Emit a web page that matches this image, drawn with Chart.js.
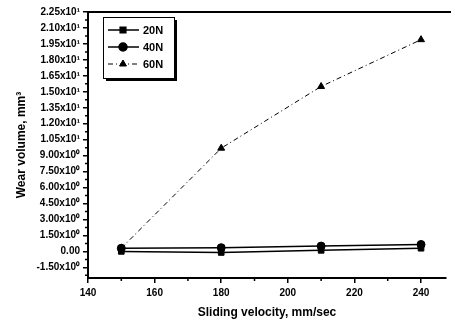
<!DOCTYPE html>
<html>
<head>
<meta charset="utf-8">
<script src="https://cdn.jsdelivr.net/npm/chart.js@4.4.1/dist/chart.umd.min.js"></script>
<style>
  html, body { margin: 0; padding: 0; background: #fff; overflow: hidden; }
</style>
</head>
<body>
<canvas id="wearChart" width="451" height="320"></canvas>
<script>
// sliding velocity (mm/sec) and wear volume (mm^3) per load
const velocities = [150, 180, 210, 240];
const wear20N = [0.0, -0.1, 0.1, 0.3];
const wear40N = [0.3, 0.35, 0.5, 0.65];
const wear60N = [0.3, 9.7, 15.5, 19.9];

const yTicks = [-1.5, 0, 1.5, 3, 4.5, 6, 7.5, 9, 10.5, 12, 13.5, 15, 16.5, 18, 19.5, 21, 22.5];
const yMinorTicks = [-2.25, -0.75, 0.75, 2.25, 3.75, 5.25, 6.75, 8.25, 9.75, 11.25, 12.75, 14.25, 15.75, 17.25, 18.75, 20.25, 21.75];
const xTicks = [140, 160, 180, 200, 220, 240];
const xMinorTicks = [150, 170, 190, 210, 230];
const seriesLabels = ['20N', '40N', '60N'];

const FONT = 'Liberation Sans, Arial, sans-serif';

function fmtY(v) {
  if (v === 0) return '0.00';
  const sign = v < 0 ? '-' : '';
  const a = Math.abs(v);
  if (a >= 10) return sign + (a / 10).toFixed(2) + 'x10\u00B9';
  return sign + a.toFixed(2) + 'x10\u2070';
}

function pts(ys) {
  return velocities.map((x, i) => ({ x: x, y: ys[i] }));
}

// minor ticks, top frame line and the boxed legend
const framePlugin = {
  id: 'frame',
  afterDraw(chart) {
    const { ctx, chartArea, scales } = chart;
    const xs = scales.x, ys = scales.y;
    ctx.save();
    ctx.strokeStyle = '#000';
    ctx.lineWidth = 1.5;
    ctx.beginPath();
    yMinorTicks.forEach(v => {
      const py = ys.getPixelForValue(v);
      if (py < chartArea.top || py > chartArea.bottom) return;
      ctx.moveTo(chartArea.left - 3, py);
      ctx.lineTo(chartArea.left, py);
    });
    xMinorTicks.forEach(v => {
      const px = xs.getPixelForValue(v);
      ctx.moveTo(px, chartArea.bottom);
      ctx.lineTo(px, chartArea.bottom + 3);
    });
    ctx.stroke();

    ctx.lineWidth = 2;
    ctx.beginPath();
    ctx.moveTo(chartArea.left - 1, chartArea.top);
    ctx.lineTo(chartArea.right + 5, chartArea.top);
    ctx.stroke();

    // legend
    const bx = chartArea.left + 15, by = chartArea.top + 5, bw = 71, bh = 61;
    ctx.fillStyle = '#000';
    ctx.fillRect(bx + 3, by + 3, bw, bh);
    ctx.fillStyle = '#fff';
    ctx.fillRect(bx, by, bw, bh);
    ctx.lineWidth = 1;
    ctx.strokeRect(bx + 0.5, by + 0.5, bw, bh);

    ctx.font = 'bold 11px ' + FONT;
    ctx.textBaseline = 'middle';
    chart.data.datasets.forEach((ds, i) => {
      const ly = by + 13 + i * 17;
      const lx0 = bx + 5, lx1 = bx + 36, mx = bx + 20;
      ctx.strokeStyle = '#000';
      ctx.lineWidth = ds.borderWidth;
      ctx.setLineDash(ds.borderDash || []);
      ctx.beginPath();
      ctx.moveTo(lx0, ly);
      ctx.lineTo(lx1, ly);
      ctx.stroke();
      ctx.setLineDash([]);
      ctx.fillStyle = '#000';
      Chart.helpers.drawPoint(ctx, { pointStyle: ds.pointStyle, radius: ds.pointRadius, borderWidth: 1 }, mx, ly);
      ctx.fillStyle = '#000';
      ctx.fillText(ds.label, bx + 40, ly + 1);
    });
    ctx.restore();
  }
};

new Chart(document.getElementById('wearChart'), {
  type: 'line',
  data: {
    datasets: [
      { label: seriesLabels[0], data: pts(wear20N), borderColor: '#000', backgroundColor: '#000',
        borderWidth: 1.5, pointStyle: 'rect', pointRadius: 4, pointBorderWidth: 1 },
      { label: seriesLabels[1], data: pts(wear40N), borderColor: '#000', backgroundColor: '#000',
        borderWidth: 1.5, pointStyle: 'circle', pointRadius: 4, pointBorderWidth: 1 },
      { label: seriesLabels[2], data: pts(wear60N), borderColor: '#000', backgroundColor: '#000',
        borderWidth: 1, borderDash: [5, 3, 1, 3], pointStyle: 'triangle', pointRadius: 4, pointBorderWidth: 1 }
    ]
  },
  options: {
    responsive: false,
    animation: false,
    devicePixelRatio: 1,
    layout: { padding: { top: 12, right: 0, left: 14, bottom: 0 } },
    plugins: { legend: { display: false }, tooltip: { enabled: false } },
    scales: {
      x: {
        type: 'linear', min: 140, max: 247.5,
        afterBuildTicks: s => { s.ticks = xTicks.map(v => ({ value: v })); },
        afterFit: s => { s.height = 42; },
        ticks: { color: '#000', font: { family: FONT, size: 10, weight: 'bold' }, padding: 4,
                 maxRotation: 0, autoSkip: false },
        grid: { drawOnChartArea: false, drawTicks: true, tickLength: 5, color: '#000', lineWidth: 1.5 },
        border: { display: true, color: '#000', width: 2 },
        title: { display: true, text: 'Sliding velocity, mm/sec', color: '#000',
                 font: { family: FONT, size: 12, weight: 'bold' }, padding: { top: 7, bottom: 0 } }
      },
      y: {
        type: 'linear', min: -2.5, max: 22.5,
        afterBuildTicks: s => { s.ticks = yTicks.map(v => ({ value: v })); },
        afterFit: s => { s.width = 74; },
        ticks: { color: '#000', font: { family: FONT, size: 10, weight: 'bold' }, padding: 3,
                 autoSkip: false, callback: v => fmtY(v) },
        grid: { drawOnChartArea: false, drawTicks: true, tickLength: 5, color: '#000', lineWidth: 1.5 },
        border: { display: true, color: '#000', width: 2 },
        title: { display: true, text: 'Wear volume, mm\u00B3', color: '#000',
                 font: { family: FONT, size: 12, weight: 'bold' }, padding: { top: 0, bottom: 4 } }
      }
    }
  },
  plugins: [framePlugin]
});
</script>
</body>
</html>
